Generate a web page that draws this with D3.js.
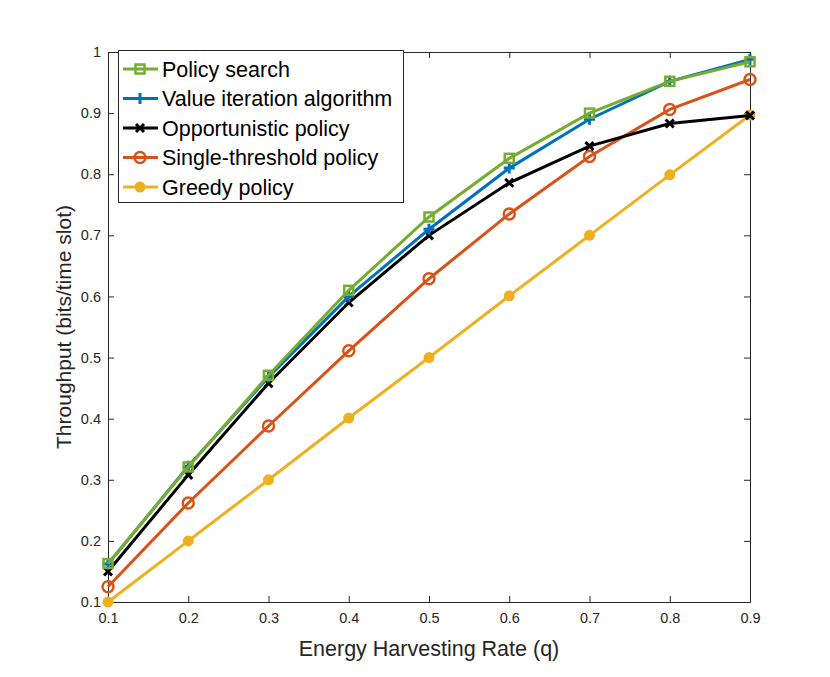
<!DOCTYPE html>
<html><head><meta charset="utf-8">
<script src="https://cdn.jsdelivr.net/npm/d3@7"></script>
<style>body{margin:0;background:#fff}svg{font-family:"Liberation Sans",Arial,sans-serif}</style>
</head><body><svg id="c" width="830" height="677"></svg>
<script>
const xs = [0.1,0.2,0.3,0.4,0.5,0.6,0.7,0.8,0.9];
const policySearch = [0.163,0.321,0.471,0.610,0.730,0.826,0.900,0.952,0.984];
const valueIteration = [0.162,0.322,0.468,0.600,0.710,0.810,0.890,0.952,0.988];
const opportunistic = [0.150,0.308,0.458,0.590,0.700,0.786,0.846,0.883,0.896];
const singleThreshold = [0.125,0.262,0.388,0.511,0.629,0.735,0.829,0.906,0.955];
const greedy = [0.100,0.200,0.300,0.401,0.500,0.601,0.700,0.799,0.897];
const xTicks = [0.1,0.2,0.3,0.4,0.5,0.6,0.7,0.8,0.9];
const yTicks = [0.1,0.2,0.3,0.4,0.5,0.6,0.7,0.8,0.9,1];
const seriesNames = ["Policy search","Value iteration algorithm","Opportunistic policy","Single-threshold policy","Greedy policy"];
const seriesColors = ["#77AC30","#0072BD","#000000","#D95319","#EDB120"];
const seriesMarkers = ["square","plus","x","circle","dot"];
const seriesData = [policySearch,valueIteration,opportunistic,singleThreshold,greedy];

const svg = d3.select("#c");
const L=108,R=750,T=52,B=602;
const x = d3.scaleLinear().domain([0.1,0.9]).range([L,R]);
const y = d3.scaleLinear().domain([0.1,1]).range([B,T]);
const axisCol="#262626";

const gx = svg.append("g").attr("transform",`translate(0,${B})`).call(d3.axisBottom(x).tickValues(xTicks).tickFormat(d3.format(".1f")).tickSizeInner(-6).tickSizeOuter(0).tickPadding(11));
const gy = svg.append("g").attr("transform",`translate(${L},0)`).call(d3.axisLeft(y).tickValues(yTicks).tickFormat(d=>d===1?"1":d3.format(".1f")(d)).tickSizeInner(-6).tickSizeOuter(0).tickPadding(7));
const gx2 = svg.append("g").attr("transform",`translate(0,${T})`).call(d3.axisTop(x).tickValues(xTicks).tickFormat("").tickSizeInner(-6).tickSizeOuter(0));
const gy2 = svg.append("g").attr("transform",`translate(${R},0)`).call(d3.axisRight(y).tickValues(yTicks).tickFormat("").tickSizeInner(-6).tickSizeOuter(0));
[gx,gy,gx2,gy2].forEach(g=>{g.selectAll("path").attr("stroke",axisCol).attr("stroke-width",1);g.selectAll("line").attr("stroke",axisCol);g.selectAll("text").attr("fill",axisCol).style("font-size","14.5px");});

svg.append("text").attr("x",(L+R)/2).attr("y",656).attr("text-anchor","middle").style("font-size","21.5px").attr("fill",axisCol).text("Energy Harvesting Rate (q)");
svg.append("text").attr("transform",`translate(71,${(T+B)/2}) rotate(-90)`).attr("text-anchor","middle").style("font-size","21px").attr("fill",axisCol).text("Throughput (bits/time slot)");

function marker(g,type,cx,cy,col){
  if(type==="square") g.append("rect").attr("x",cx-4.5).attr("y",cy-4.5).attr("width",9).attr("height",9).attr("fill","none").attr("stroke",col).attr("stroke-width",2.5);
  else if(type==="plus") g.append("path").attr("d",`M${cx-5.5},${cy}H${cx+5.5}M${cx},${cy-5.5}V${cy+5.5}`).attr("stroke",col).attr("stroke-width",3);
  else if(type==="x") g.append("path").attr("d",`M${cx-4},${cy-4}L${cx+4},${cy+4}M${cx-4},${cy+4}L${cx+4},${cy-4}`).attr("stroke",col).attr("stroke-width",3);
  else if(type==="circle") g.append("circle").attr("cx",cx).attr("cy",cy).attr("r",5.5).attr("fill","none").attr("stroke",col).attr("stroke-width",2.5);
  else g.append("circle").attr("cx",cx).attr("cy",cy).attr("r",5.5).attr("fill",col);
}
const line = d3.line().x((d,i)=>x(xs[i])).y(d=>y(d));
const order=[4,3,2,1,0];
order.forEach(k=>{
  const g=svg.append("g");
  g.append("path").datum(seriesData[k]).attr("d",line).attr("fill","none").attr("stroke",seriesColors[k]).attr("stroke-width",3);
  seriesData[k].forEach((v,i)=>marker(g,seriesMarkers[k],x(xs[i]),y(v),seriesColors[k]));
});

const lg=svg.append("g");
lg.append("rect").attr("x",118.5).attr("y",50.5).attr("width",285).attr("height",152).attr("fill","#fff").attr("stroke",axisCol).attr("stroke-width",1);
seriesNames.forEach((n,k)=>{
  const yy=69+k*29.5;
  lg.append("line").attr("x1",123).attr("x2",158).attr("y1",yy).attr("y2",yy).attr("stroke",seriesColors[k]).attr("stroke-width",3);
  marker(lg,seriesMarkers[k],140,yy,seriesColors[k]);
  lg.append("text").attr("x",162).attr("y",yy+7.5).style("font-size","21.5px").attr("fill","#000").text(n);
});
</script></body></html>
